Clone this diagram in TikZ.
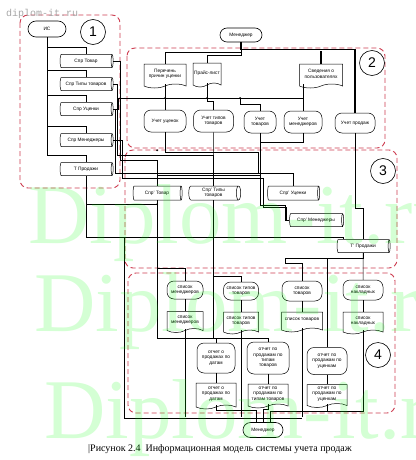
\documentclass[tikz,border=0pt]{standalone}
\usepackage{fontspec}
\setmainfont{Liberation Serif}
\setsansfont{Liberation Sans}
\newfontfamily\wmfont{Liberation Mono}
\usetikzlibrary{positioning, shapes.geometric, shapes.misc, shapes.symbols, calc}
\definecolor{regred}{RGB}{205,60,80}

\begin{document}
\begin{tikzpicture}[x=1pt, y=-1pt,
    every node/.style={font=\sffamily\fontsize{4.8}{5.4}\selectfont, align=center, inner sep=0pt},
    term/.style={draw, rounded rectangle, minimum width=40pt, minimum height=15pt, line width=0.6pt},
    proc/.style={draw, rectangle, rounded corners=7pt, minimum width=40pt, minimum height=22pt, line width=0.5pt},
    doc/.style={draw, tape, tape bend top=none, tape bend height=4pt, minimum width=42pt, minimum height=24pt, line width=0.5pt},
    db/.style={draw, cylinder, aspect=0.45, minimum height=53pt, minimum width=13pt, line width=0.5pt},
    region/.style={draw=regred, dash pattern=on 5pt off 3pt, line width=0.9pt, rounded corners=8pt},
    num/.style={draw, circle, minimum size=25pt, line width=0.6pt, font=\sffamily\fontsize{14}{14}\selectfont},
    conn/.style={line width=0.5pt},
    thickconn/.style={line width=1.3pt},
]
\useasboundingbox (0,0) rectangle (415,460);
\clip (0,0) rectangle (415,460);

% regions
\draw[region] (20,15) rectangle (120,188);
\draw[region] (127,48) rectangle (385,148);
\draw[region] (125,150) rectangle (397,268);
\draw[region] (128,273) rectangle (395,413);

% region 1
\node[term, minimum width=38pt, minimum height=16pt] (is) at (47,29) {ИС};
\node[num] (n1) at (93,32) {1};
\node[db] (sprT) at (86,61) {Спр Товар};
\node[db] (sprTT) at (86,84) {Спр Типы товаров};
\node[db] (sprUc) at (86,109) {Спр Уценки};
\node[db] (sprM) at (86,140) {Спр Менеджеры};
\node[db] (tProd) at (86,169) {Т Продажи};

% region 2
\node[term, minimum width=42pt, minimum height=14pt] (mgrTop) at (241,35) {Менеджер};
\node[num] (n2) at (372,63) {2};
\node[doc] (perechen) at (165,74) {Перечень\\причин уценки};
\node[doc, minimum width=28pt] (price) at (207,73) {Прайс-лист};
\node[doc, minimum width=43pt] (sved) at (321,74) {Сведения о\\пользователях};
\node[proc, minimum width=42pt] (uUc) at (165,121) {Учет уценок};
\node[proc] (uTT) at (213.5,121) {Учет типов\\товаров};
\node[proc, minimum width=32pt] (uT) at (260,122) {Учет\\товаров};
\node[proc, minimum width=38pt] (uM) at (303,122) {Учет\\менеджеров};
\node[proc, minimum height=20pt] (uP) at (355,123) {Учет продаж};

% region 3
\node[num] (n3) at (383,171) {3};
\node[db, minimum height=49pt, minimum width=14pt] (sprTP) at (157,193) {Спр' Товар};
\node[db, minimum height=52pt, minimum width=14pt] (sprTTP) at (213.5,193) {Спр' Типы\\товаров};
\node[db, minimum height=52pt, minimum width=14pt] (sprUcP) at (293,193) {Спр' Уценки};
\node[db, minimum height=54pt] (sprMP) at (316,220) {Спр' Менеджеры};
\node[db] (tProdP) at (363,246) {Т' Продажи};

% region 4
\node[num] (n4) at (378,355) {4};
\node[proc, minimum width=36pt, minimum height=18pt] (lM) at (185,290) {список\\менеджеров};
\node[doc, minimum width=36pt, minimum height=21pt] (lMd) at (185,320) {список\\менеджеров};
\node[proc, minimum width=35pt, minimum height=18pt] (lTT) at (241,291) {список типов\\товаров};
\node[doc, minimum width=35pt, minimum height=22pt] (lTTd) at (241,321) {список типов\\товаров};
\node[proc, minimum height=20pt] (lT) at (302,291) {список\\товаров};
\node[doc, minimum width=41pt, minimum height=20pt] (lTd) at (302,320) {список товаров};
\node[proc, minimum height=20pt] (lN) at (363,290) {список\\накладных};
\node[doc, minimum width=40pt, minimum height=22pt] (lNd) at (363,321) {список\\накладных};
\node[proc, minimum width=38pt, minimum height=30pt] (rD) at (216,358) {отчет о\\продажах по\\датам};
\node[doc, minimum width=40pt, minimum height=26pt] (rDd) at (216,394) {отчет о\\продажах по\\датам};
\node[proc, minimum width=42pt, minimum height=32pt] (rTT) at (268,358) {отчет по\\продажам по\\типам\\товаров};
\node[doc, minimum width=40pt, minimum height=24pt] (rTTd) at (268,394) {отчет по\\продажам по\\типам товаров};
\node[proc, minimum height=27pt] (rU) at (327,361) {отчет по\\продажам по\\уценкам};
\node[doc, minimum width=40pt, minimum height=23pt] (rUd) at (327,394) {отчет по\\продажам по\\уценкам};
\node[term] (mgrBot) at (263,430) {Менеджер};

% region 1 links
\foreach \c in {sprT,sprTT,sprUc,sprM,tProd}
  \draw[conn] (is.south) |- ([yshift=7pt]\c.north) -- (\c.north);

% manager on top
\draw[thickconn] (mgrTop.south) -- ++(0,7) -| (uP.north);
\draw[thickconn] (sved.north) -- ++(0,-13);
\draw[conn] (mgrTop.south) -- ++(0,10) -| (perechen.north);
\draw[conn] (mgrTop.south) -- ++(0,13) -| (price.north);

% region 2
\draw[conn] (perechen.south) -- (uUc.north);
\draw[conn] (price.south) -- ++(0,18) -| (uTT.north);
\draw[conn] (sprUc.east) -- ++(5,0) -- ++(0,-11) coordinate (busL) -| ([xshift=-18pt]sved.south);
\draw[conn] ([xshift=-18pt]sved.south) -- (uM.north);
\coordinate (b2) at (240,98);
\draw[conn] (b2) -- ++(0,6) -| (uT.north);
\fill (perechen.south |- b2) circle (1pt);
\fill (price.south |- b2) circle (1pt);
\fill (b2) circle (1pt);

% region 2 -> region 3
\draw[conn] (uUc.south) -- ++(0,20) -- ++(93,0) -- ++(0,21) -| (sprUcP.north);
\draw[conn] (uTT.south) -- (sprTTP.north);
\draw[conn] (uT.south) -- ++(0,42) -| (sprTP.north);
\draw[conn] (uM.south) -- ++(0,9) -- ++(-43,0) -- ++(0,63) -- ++(25,0) |- (sprMP.west);
\draw[conn] (uP.south) -- ++(0,75) -| (tProdP.north);

% region 1 -> region 3
\draw[conn] (sprT.east) -- ++(6.5,0) -- ++(0,99) -| (sprTP.north);
\draw[conn] (sprTT.east) -- ++(3.5,0) -- ++(0,71) -| (sprTTP.north);
\draw[conn] (sprUc.east) -- ++(2,0) -- ++(0,64) -| (sprUcP.north);
\draw[conn] (sprM.east) -- ++(8.5,0) -- ++(0,38) -- ++(141,0) -- ++(0,29) -| ([xshift=-3pt]sprMP.west) -- (sprMP.west);
\draw[conn] (tProd.south) |- ([yshift=-4pt]sprTP.south);
\draw[conn] (tProd.south) -- ++(0,61) coordinate (jT) -| ([xshift=-20pt]tProdP.north);
\draw[conn] ([xshift=38pt]jT) |- ([xshift=39pt,yshift=4pt]mgrBot.north);
\draw[conn] (mgrBot.north) -- ++(0,-4);
\fill (sprTP.north |- uUc.south) ++(0,18) circle (1pt);
\fill ([yshift=-4pt]sprTP.south) circle (1pt);

% region 3 -> region 4
\draw[conn] (sprTP.south) -- ++(0,68) -| (lM.north);
\draw[conn] (sprTP.south) |- ([yshift=5pt]rD.north) -- (rD.north);
\draw[conn] (sprTTP.south) -- ++(0,76) -| (lTT.north);
\draw[conn] (sprTTP.south) |- ([yshift=4pt]rTT.north) -- (rTT.north);
\draw[conn] (tProdP.south) -- (lN.north);
\draw[conn] (tProdP.south) -- ++(0,5) -| ++(-78,5) -| (lT.north);
\draw[conn] ([yshift=-5pt]tProdP.south) -| (rU.north);

% region 4
\foreach \a/\b in {lM/lMd, lTT/lTTd, lT/lTd, lN/lNd, rD/rDd, rTT/rTTd, rU/rUd}
  \draw[conn] (\a.south) -- (\b.north);
\draw[conn] (lMd.south) -- ++(0,88);
\draw[conn] (lTTd.south) -- ++(0,87);
\draw[conn] (lTd.south) -- ++(0,89);
\draw[conn] (rDd.south) -- ++(0,5) -| ([xshift=-7pt]mgrBot.north);
\draw[conn] (rTTd.south) -- ++(0,5) -| (mgrBot.north);
\draw[conn] (lNd.south) |- ([yshift=-7pt]rUd.south) -- (rUd.south);
\draw[conn] ([yshift=-7pt]rUd.south) -| ([xshift=7pt]mgrBot.north);

% caption
\node[anchor=base west, font=\rmfamily\fontsize{10}{12}\selectfont] (cap) at (88,451) {|Рисунок 2.4\ \ Информационная модель системы учета продаж};

% watermarks
\node[anchor=base west, font=\wmfont\fontsize{10}{10}\selectfont, text=black!35] (wm0) at (6,17) {diplom-it.ru};
\begin{scope}[text opacity=0.17, every node/.style={anchor=base west, text=green, inner sep=0pt, font=\rmfamily\fontsize{85}{85}\selectfont}]
\node (wm1) at (28,243) {Diplom-it.ru};
\node (wm2) at (34,331) {Diplom-it.ru};
\node (wm3) at (44,438) {Diplom-it.ru};
\end{scope}
\end{tikzpicture}
\end{document}
